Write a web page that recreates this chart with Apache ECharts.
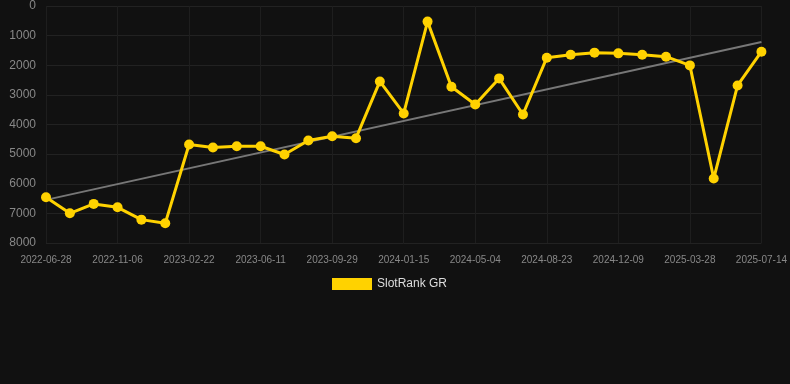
<!DOCTYPE html>
<html>
<head>
<meta charset="utf-8">
<script src="https://cdn.jsdelivr.net/npm/echarts@6/dist/echarts.min.js"></script>
<style>html,body{margin:0;padding:0;background:#111111;}#c{width:790px;height:384px;}</style>
</head>
<body>
<div id="c"></div>
<script>
const categories = [
  '2022-06-28','2022-08-11','2022-09-24','2022-11-06','2022-12-12','2023-01-17',
  '2023-02-22','2023-03-30','2023-05-05','2023-06-11','2023-07-18','2023-08-23',
  '2023-09-29','2023-11-04','2023-12-10','2024-01-15','2024-02-21','2024-03-28',
  '2024-05-04','2024-06-10','2024-07-17','2024-08-23','2024-09-28','2024-11-03',
  '2024-12-09','2025-01-14','2025-02-19','2025-03-28','2025-05-03','2025-06-08',
  '2025-07-14'
];
const rankValues = [
  6457, 6998, 6680, 6795, 7211, 7336,
  4675, 4777, 4733, 4733, 5014, 4540,
  4395, 4462, 2546, 3627, 527, 2725,
  3323, 2444, 3661, 1744, 1643, 1575,
  1599, 1643, 1711, 2005, 5825, 2681,
  1542
];
const trendValues = [6545, 1217];
const yTicks = [0, 1000, 2000, 3000, 4000, 5000, 6000, 7000, 8000];

const trendData = [
  [categories[0], trendValues[0]],
  [categories[categories.length - 1], trendValues[1]]
];

const chart = echarts.init(document.getElementById('c'), null, {renderer: 'canvas'});
chart.setOption({
  backgroundColor: '#111111',
  animation: false,
  grid: {left: 46, right: 28, top: 6, bottom: 141, containLabel: false},
  legend: {
    data: ['SlotRank GR'],
    top: 273,
    left: 327,
    itemWidth: 40,
    itemHeight: 12,
    itemGap: 10,
    textStyle: {color: '#dddddd', fontSize: 12, fontFamily: 'Liberation Sans, Arial, sans-serif'},
    icon: 'rect'
  },
  xAxis: {
    type: 'category',
    data: categories,
    boundaryGap: false,
    axisLine: {show: false},
    axisTick: {show: false},
    axisLabel: {interval: 2, color: '#888888', fontSize: 10, margin: 12, fontFamily: 'Liberation Sans, Arial, sans-serif'},
    splitLine: {show: true, interval: 2, lineStyle: {color: '#1e1e1e', width: 1}}
  },
  yAxis: {
    type: 'value',
    inverse: true,
    min: yTicks[0],
    max: yTicks[yTicks.length - 1],
    interval: yTicks[1] - yTicks[0],
    axisLine: {show: false},
    axisTick: {show: false},
    axisLabel: {
      color: '#888888', fontSize: 12, margin: 10,
      fontFamily: 'Liberation Sans, Arial, sans-serif',
      formatter: function (v) { return String(v); }
    },
    splitLine: {show: true, lineStyle: {color: '#222222', width: 1}}
  },
  series: [
    {
      name: 'SlotRank GR',
      type: 'line',
      data: rankValues,
      symbol: 'circle',
      symbolSize: 10,
      itemStyle: {color: '#ffd200'},
      lineStyle: {color: '#ffd200', width: 3},
      z: 3
    },
    {
      name: 'Trend',
      type: 'line',
      data: trendData,
      symbol: 'none',
      lineStyle: {color: '#777777', width: 2},
      silent: true,
      z: 2
    }
  ]
});
</script>
</body>
</html>
